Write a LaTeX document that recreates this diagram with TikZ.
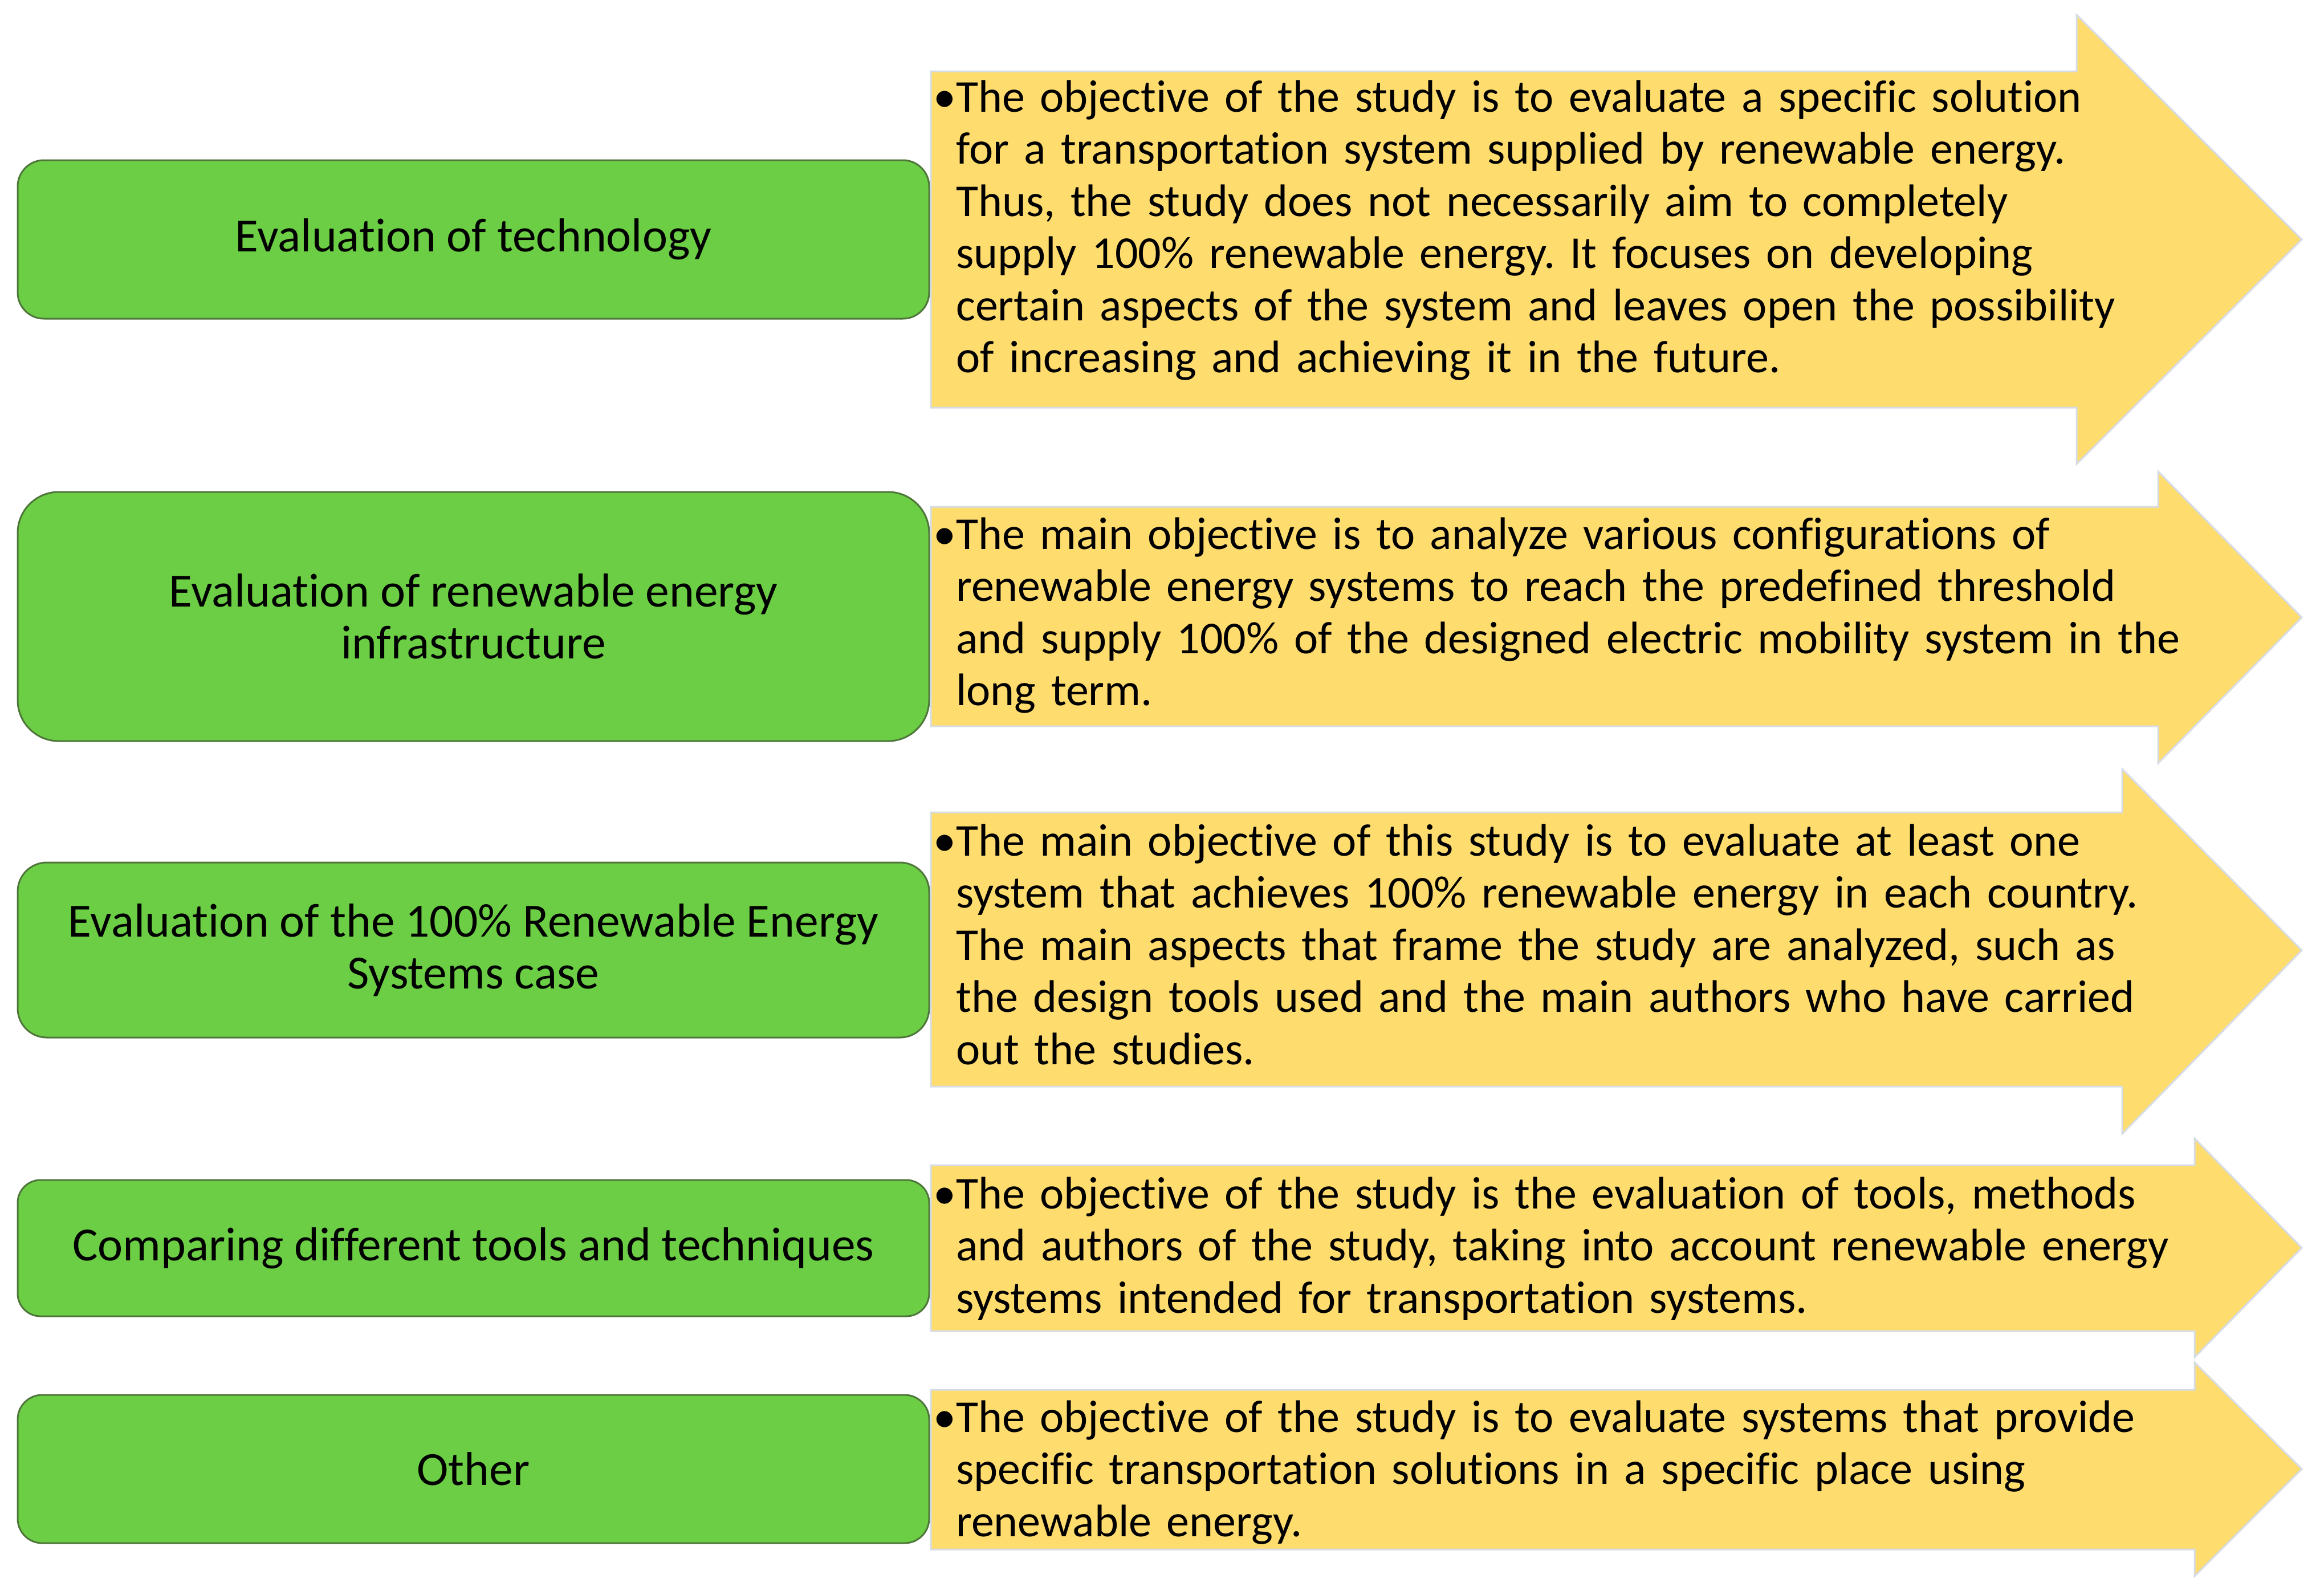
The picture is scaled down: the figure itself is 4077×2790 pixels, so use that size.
\documentclass[tikz,border=0pt]{standalone}
\usepackage{fontspec}
\setmainfont{Carlito}[Ligatures=NoCommon]
\frenchspacing
\definecolor{boxgreen}{RGB}{108,206,68}
\definecolor{boxedge}{RGB}{78,118,58}
\definecolor{arrowfill}{RGB}{255,220,110}
\definecolor{arrowedge}{RGB}{214,220,229}
\tikzset{
  greenbox/.style={draw=boxedge, line width=3pt, fill=boxgreen, align=center, inner sep=0pt,
    font=\fontsize{83.5}{91.5}\selectfont, minimum width=1599pt},
  arrowshape/.style={draw=arrowedge, line width=3pt, fill=arrowfill, line join=miter},
  desc/.style={anchor=base west, inner sep=0pt, text width=2400pt, align=left,
    font=\fontsize{80}{91.5}\selectfont}
}
\newcommand{\bigarrow}[8]{%
  \path[arrowshape] (#1,#2) -- (#4,#2) -- (#4,#5) -- (#7,#8) -- (#4,#6) -- (#4,#3) -- (#1,#3) -- cycle;}
\begin{document}
\begin{tikzpicture}[x=1pt,y=-1pt]
\useasboundingbox (0,0) rectangle (4077,2790);
% green boxes
\node[greenbox, minimum height=278pt, rounded corners=46pt] (g1) at (830.5,420) {Evaluation of technology};
\node[greenbox, minimum height=437pt, rounded corners=72pt] (g2) at (830.5,1081.5) {Evaluation of renewable energy\\infrastructure};
\node[greenbox, minimum height=307pt, rounded corners=51pt] (g3) at (830.5,1666.5) {Evaluation of the 100\% Renewable Energy\\Systems case};
\node[greenbox, minimum height=239pt, rounded corners=40pt] (g4) at (830.5,2189.5) {Comparing different tools and techniques};
\node[greenbox, minimum height=260pt, rounded corners=43pt] (g5) at (830.5,2577) {Other};
% arrows
\bigarrow{1633}{125}{715}{3643}{26}{814}{4038}{420}
\bigarrow{1633}{889}{1274}{3786}{827}{1339}{4038}{1083}
\bigarrow{1633}{1425}{1906}{3723}{1349}{1989}{4038}{1667}
\bigarrow{1633}{2044}{2335}{3850}{1997}{2381}{4038}{2189}
\bigarrow{1633}{2438}{2718}{3850}{2390}{2765}{4038}{2577}
% texts
\node[desc] (t1) at (1677,196) {\llap{•}The objective of the study is to evaluate a specific solution\\
for a transportation system supplied by renewable energy.\\
Thus, the study does not necessarily aim to completely\\
supply 100\% renewable energy. It focuses on developing\\
certain aspects of the system and leaves open the possibility\\
of increasing and achieving it in the future.};
\node[desc] (t2) at (1677,963) {\llap{•}The main objective is to analyze various configurations of\\
renewable energy systems to reach the predefined threshold\\
and supply 100\% of the designed electric mobility system in the\\
long term.};
\node[desc] (t3) at (1677,1501) {\llap{•}The main objective of this study is to evaluate at least one\\
system that achieves 100\% renewable energy in each country.\\
The main aspects that frame the study are analyzed, such as\\
the design tools used and the main authors who have carried\\
out the studies.};
\node[desc] (t4) at (1677,2120) {\llap{•}The objective of the study is the evaluation of tools, methods\\
and authors of the study, taking into account renewable energy\\
systems intended for transportation systems.};
\node[desc] (t5) at (1677,2512) {\llap{•}The objective of the study is to evaluate systems that provide\\
specific transportation solutions in a specific place using\\
renewable energy.};
\end{tikzpicture}
\end{document}
